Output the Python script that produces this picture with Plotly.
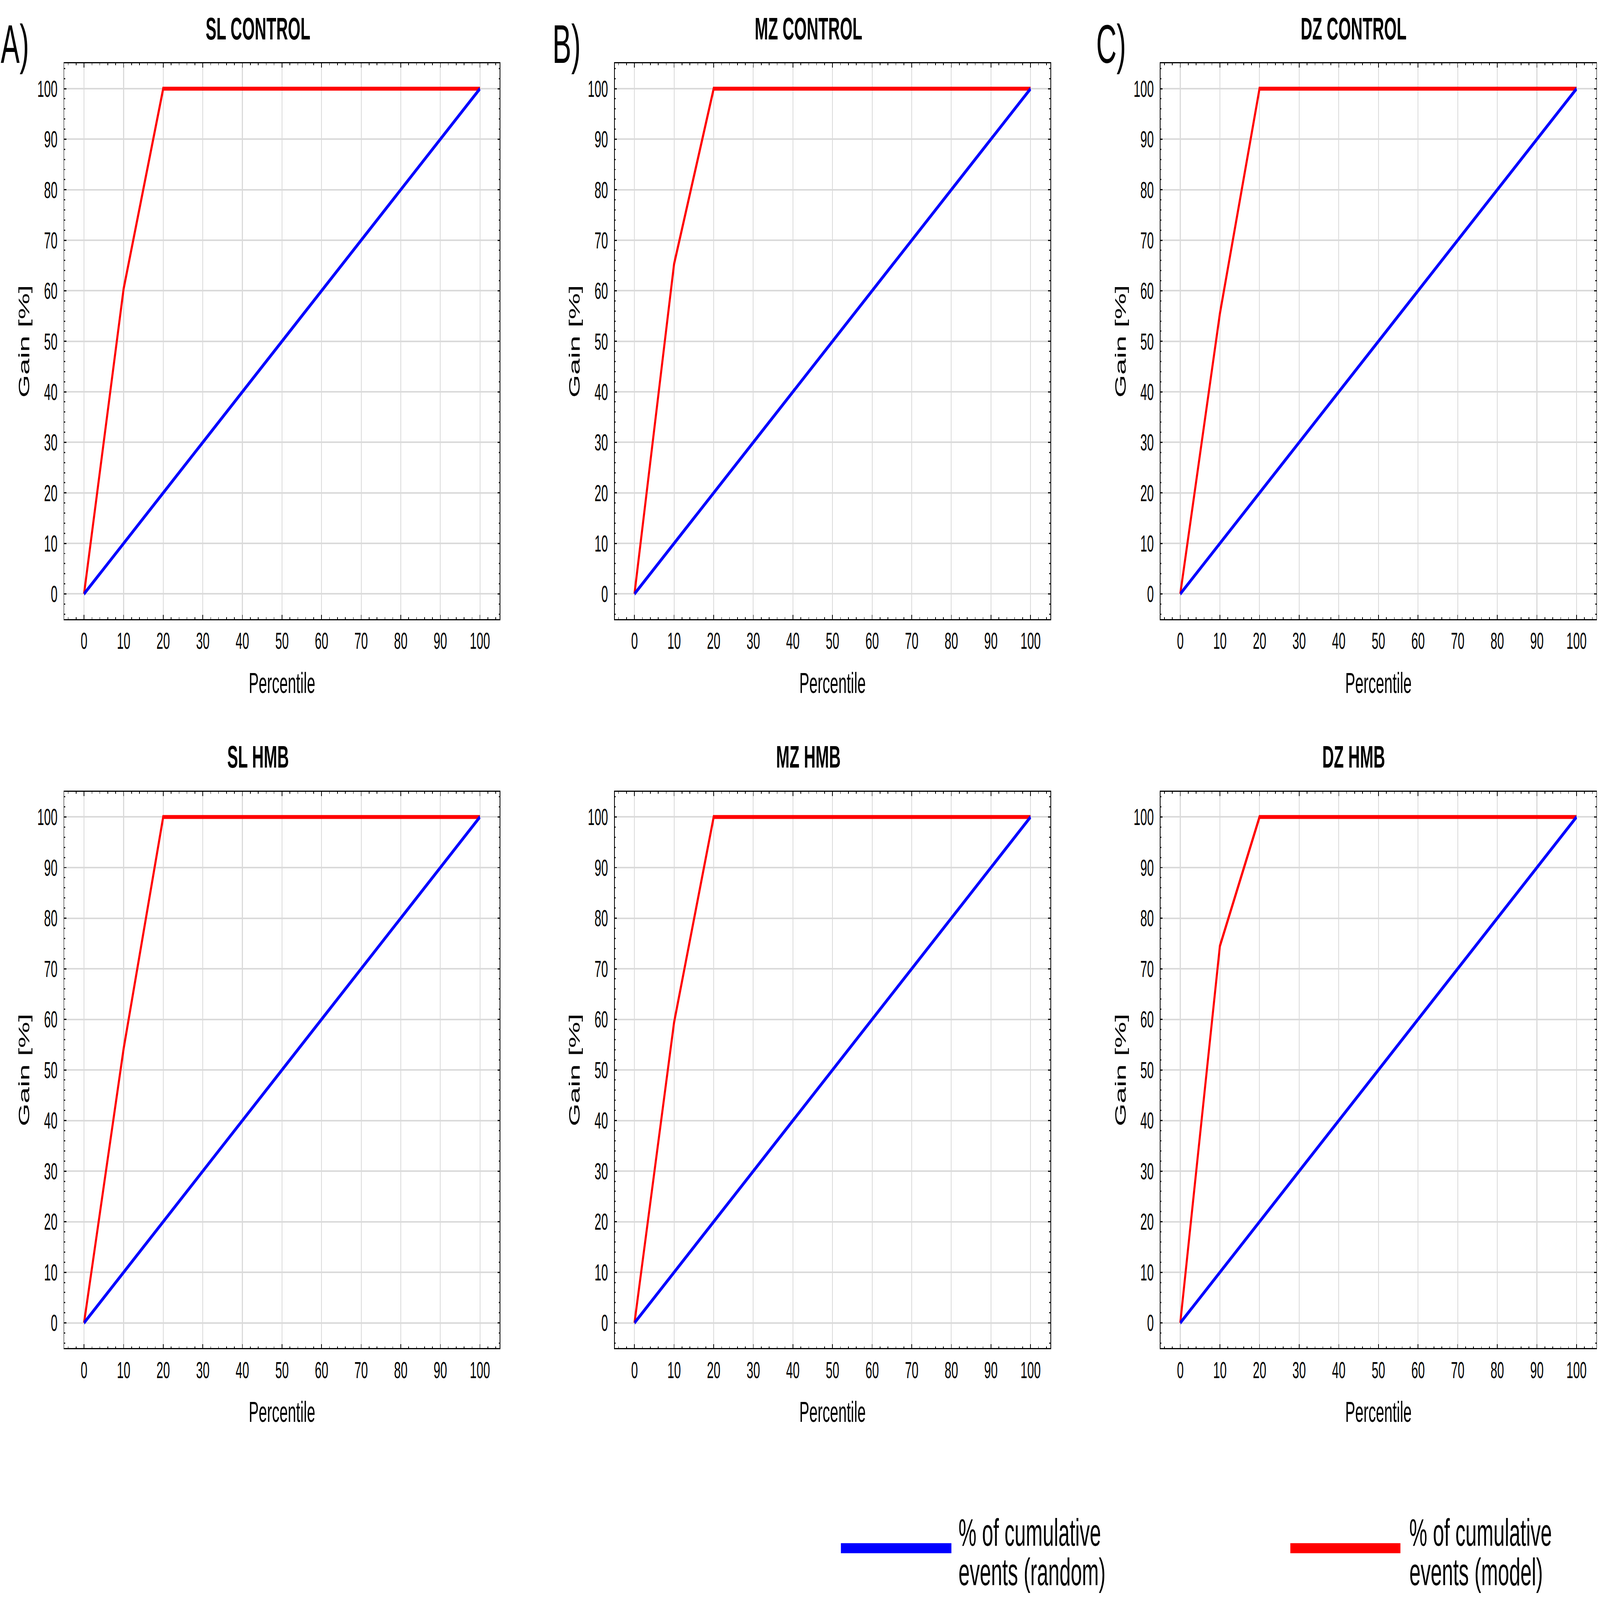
import plotly.graph_objects as go

# ---------------- data ----------------
percentile = [0, 10, 20, 30, 40, 50, 60, 70, 80, 90, 100]
random_gain = [0, 10, 20, 30, 40, 50, 60, 70, 80, 90, 100]
sl_control_model = [0, 60.4, 100, 100, 100, 100, 100, 100, 100, 100, 100]
mz_control_model = [0, 65.3, 100, 100, 100, 100, 100, 100, 100, 100, 100]
dz_control_model = [0, 55.5, 100, 100, 100, 100, 100, 100, 100, 100, 100]
sl_hmb_model = [0, 54.2, 100, 100, 100, 100, 100, 100, 100, 100, 100]
mz_hmb_model = [0, 59.4, 100, 100, 100, 100, 100, 100, 100, 100, 100]
dz_hmb_model = [0, 74.5, 100, 100, 100, 100, 100, 100, 100, 100, 100]

panel_titles = ["SL CONTROL", "MZ CONTROL", "DZ CONTROL", "SL HMB", "MZ HMB", "DZ HMB"]
panel_models = [sl_control_model, mz_control_model, dz_control_model,
                sl_hmb_model, mz_hmb_model, dz_hmb_model]
panel_letters = ["A)", "B)", "C)"]
x_ticks = [0, 10, 20, 30, 40, 50, 60, 70, 80, 90, 100]
y_ticks = [0, 10, 20, 30, 40, 50, 60, 70, 80, 90, 100]
x_title = "Percentile"
y_title = "Gain [%]"
random_name = ["% of cumulative", "events (random)"]
model_name = ["% of cumulative", "events (model)"]

# ---------------- layout geometry ----------------
W, H = 7921, 4137
FONT = "Liberation Sans, Arial, sans-serif"
BLUE = "#0000FF"
RED = "#FF0000"
col_px = [(318, 2474), (3043, 5200), (5745, 7903)]
row_px = [(164, 1601), (2047, 3486)]
title_cx = [1277, 4002, 6701]
title_cy = [74, 1957]
letter_x = [2, 2733, 5425]


def fx(px):
    return px / W


def fy(px):
    return 1 - px / H


fig = go.Figure()
layout = {}
annotations = []

for i in range(6):
    r, c = divmod(i, 3)
    n = i + 1
    xa = "x" if n == 1 else f"x{n}"
    ya = "y" if n == 1 else f"y{n}"
    model = panel_models[i]
    fig.add_trace(go.Scatter(x=percentile, y=model, mode="lines",
                             line=dict(color=RED, width=10),
                             xaxis=xa, yaxis=ya, showlegend=False,
                             name=" ".join(model_name)))
    fig.add_trace(go.Scatter(x=percentile, y=random_gain, mode="lines",
                             line=dict(color=BLUE, width=10),
                             xaxis=xa, yaxis=ya, showlegend=False,
                             name=" ".join(random_name)))
    common = dict(
        range=[-5, 105], ticks="inside", ticklen=11, tickwidth=3,
        tickcolor="black", showline=True, linecolor="black", linewidth=3,
        mirror="ticks", showgrid=True, gridcolor="#dadada", gridwidth=4,
        zeroline=False, tickfont=dict(family=FONT, size=60, color="black"),
        minor=dict(tickmode="linear", tick0=0, dtick=2, ticks="inside",
                   ticklen=5, tickwidth=3, tickcolor="black", showgrid=False),
    )
    x0, x1 = col_px[c]
    y0, y1 = row_px[r]
    layout["xaxis" if n == 1 else f"xaxis{n}"] = dict(
        common, tickvals=x_ticks, domain=[fx(x0), fx(x1)], anchor=ya,
        ticklabelstandoff=2,
        title=dict(text=x_title, font=dict(family=FONT, size=74, color="black"),
                   standoff=50),
    )
    layout["yaxis" if n == 1 else f"yaxis{n}"] = dict(
        common, tickvals=y_ticks, domain=[fy(y1), fy(y0)], anchor=xa,
        ticklabelstandoff=18,
        title=dict(text=y_title, font=dict(family=FONT, size=76, color="black"),
                   standoff=14),
    )
    annotations.append(dict(
        text=f"<b>{panel_titles[i]}</b>", x=fx(title_cx[c]), y=fy(title_cy[r]),
        xref="paper", yref="paper", xanchor="center", yanchor="middle",
        showarrow=False, font=dict(family=FONT, size=80, color="black")))

for c in range(3):
    annotations.append(dict(
        text=panel_letters[c], x=fx(letter_x[c]), y=fy(114),
        xref="paper", yref="paper", xanchor="left", yanchor="middle",
        showarrow=False, font=dict(family=FONT, size=140, color="black")))

# ---------------- legend (drawn as swatch + text) ----------------
shapes = []
legend_items = [(random_name, BLUE, 4163, 4710, 4743), (model_name, RED, 6388, 6933, 6975)]
for lines, color, sx0, sx1, tx in legend_items:
    shapes.append(dict(type="rect", xref="paper", yref="paper",
                       x0=fx(sx0), x1=fx(sx1), y0=fy(4016), y1=fy(3990),
                       fillcolor=color, line=dict(width=0)))
    for k, line in enumerate(lines):
        annotations.append(dict(
            text=line, x=fx(tx), y=fy([3962, 4064][k]),
            xref="paper", yref="paper", xanchor="left", yanchor="middle",
            showarrow=False, font=dict(family=FONT, size=100, color="black")))

fig.update_layout(
    width=W, height=H, margin=dict(l=0, r=0, t=0, b=0),
    paper_bgcolor="white", plot_bgcolor="white",
    font=dict(family=FONT, color="black"),
    annotations=annotations, shapes=shapes, showlegend=False,
    **layout,
)

# The browser window may be smaller than the figure; scale the drawn page so
# that the whole 7921x4137 figure fits the window (no-op when it already fits).
fit_script = """
var gd = document.getElementById('{plot_id}');
document.body.style.margin = '0';
document.documentElement.style.overflow = 'hidden';
var sx = Math.min(1, window.innerWidth / %d);
var sy = Math.min(1, window.innerHeight / %d);
gd.style.transformOrigin = '0 0';
gd.style.transform = 'scale(' + sx + ',' + sy + ')';
""" % (W, H)

fig.write_html("out.html", post_script=fit_script,
               config={"displayModeBar": False})
